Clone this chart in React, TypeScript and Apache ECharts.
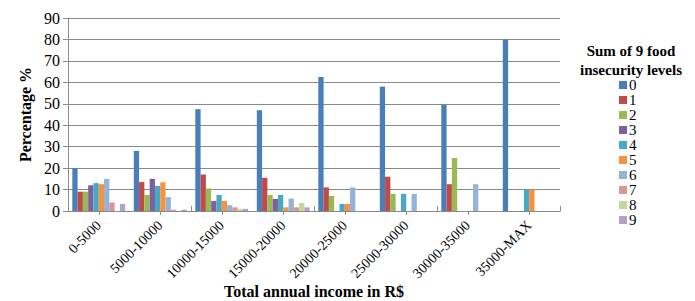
import React, { useEffect, useRef } from "react";
import * as echarts from "echarts";

const categories = ["0-5000", "5000-10000", "10000-15000", "15000-20000", "20000-25000", "25000-30000", "30000-35000", "35000-MAX"];
const levels = ["0", "1", "2", "3", "4", "5", "6", "7", "8", "9"];
const level0 = [20, 28, 47.5, 47, 62.5, 58, 49.5, 80];
const level1 = [9, 13.5, 17, 15.5, 11, 16, 12.5, 0];
const level2 = [9, 7.5, 10.5, 7.5, 7, 8, 24.7, 0];
const level3 = [12, 15, 4.7, 5.6, 0, 0, 0, 0];
const level4 = [13, 11.7, 7.5, 7.5, 3.3, 8, 0, 10];
const level5 = [12.5, 13.4, 4.7, 1.7, 3.3, 0, 0, 10];
const level6 = [15, 6.5, 2.7, 5.8, 11, 8, 12.5, 0];
const level7 = [4, 0.6, 1.7, 1.7, 0, 0, 0, 0];
const level8 = [0, 0, 1, 3.7, 0, 0, 0, 0];
const level9 = [3.3, 0.6, 1, 1.7, 0, 0, 0, 0];
const levelValues = [level0, level1, level2, level3, level4, level5, level6, level7, level8, level9];
const colors = ["#4A7EBB", "#BE4B48", "#98B954", "#7D60A0", "#46AAC5", "#F69240", "#95B3D7", "#D99694", "#C3D69B", "#B3A2C7"];

const FONT = "Liberation Serif";
const GRID = "#8A8A8A";

export default function App() {
  const ref = useRef<HTMLDivElement>(null);
  useEffect(() => {
    if (!ref.current) return;
    const chart = echarts.init(ref.current, null, { renderer: "svg" });
    chart.setOption({
      animation: false,
      color: colors,
      textStyle: { fontFamily: FONT },
      grid: { left: 68, right: 135, top: 18, height: 193, outerBoundsMode: "none", containLabel: false },
      graphic: [
        {
          type: "text",
          x: 631,
          y: 60,
          style: {
            text: "Sum of 9 food\ninsecurity levels",
            fontFamily: FONT,
            fontSize: 15,
            fontWeight: "bold",
            fill: "#000",
            textAlign: "center",
            textVerticalAlign: "middle",
            lineHeight: 19,
          },
        },
      ],
      legend: {
        orient: "vertical",
        left: 614,
        top: 72.5,
        itemWidth: 8,
        itemHeight: 8,
        itemGap: 0,
        icon: "rect",
        data: levels,
        textStyle: { fontFamily: FONT, fontSize: 15, color: "#000", lineHeight: 13.7, padding: [0, 0, 0, -3] },
      },
      xAxis: [
        {
          type: "category",
          data: categories,
          position: "bottom",
          name: "Total annual income in R$",
          nameLocation: "middle",
          nameGap: 72,
          nameMoveOverlap: false,
          nameTextStyle: { fontFamily: FONT, fontSize: 16, fontWeight: "bold", color: "#000" },
          axisLine: { show: true, lineStyle: { color: GRID, width: 1 } },
          axisTick: { show: true, alignWithLabel: true, length: 4, lineStyle: { color: GRID } },
          axisLabel: { rotate: 45, fontFamily: FONT, fontSize: 14, color: "#000", margin: 12, interval: 0 },
        },
        {
          type: "category",
          data: categories,
          position: "bottom",
          axisLine: { show: false },
          axisTick: { show: true, inside: true, length: 5, lineStyle: { color: GRID } },
          axisLabel: { show: false },
        },
      ],
      yAxis: {
        type: "value",
        min: 0,
        max: 90,
        interval: 10,
        name: "Percentage %",
        nameLocation: "middle",
        nameGap: 35,
        nameTextStyle: { fontFamily: FONT, fontSize: 16, fontWeight: "bold", color: "#000" },
        axisLine: { show: true, lineStyle: { color: GRID } },
        axisTick: { show: true, length: 5, lineStyle: { color: GRID } },
        axisLabel: { fontFamily: FONT, fontSize: 16, color: "#000", margin: 8 },
        splitLine: { show: true, lineStyle: { color: GRID, width: 1 } },
      },
      series: levels.map((name, i) => ({
        name,
        type: "bar",
        xAxisIndex: 0,
        data: levelValues[i],
        barGap: "0%",
        barCategoryGap: "14%",
        itemStyle: { color: colors[i] },
      })),
    });
    return () => chart.dispose();
  }, []);
  return <div ref={ref} style={{ position: "fixed", left: 0, top: 0, width: 695, height: 301, background: "#fff" }} />;
}
